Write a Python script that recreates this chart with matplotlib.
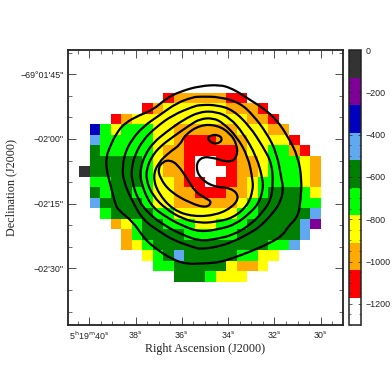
import matplotlib
matplotlib.use('Agg')
import matplotlib.pyplot as plt
import numpy as np
from matplotlib.colors import ListedColormap, BoundaryNorm
from matplotlib.path import Path
from matplotlib.patches import PathPatch
from matplotlib.ticker import MultipleLocator

# velocity map, one letter per cell, '.' = no data
map_rows = [
    "........ROOOOORR.......",
    "......ROYYYYYYOOOR.....",
    "...ROYYYYYYYYYYYOOR....",
    ".BGYGGGYYOOOOOOYYYOO...",
    ".LGGGGGYYORRROOOYYYYR..",
    ".DGGGGGYOORRRRROYYGGOR.",
    ".DDDDDGYOORWWRROOYGGGYO",
    "KDDDDDGYOORWWWROOYGGGYO",
    ".GGDDDGYYORRWRROYGGGGYO",
    ".DGDDGGYYOORRROOYGDDDGY",
    ".LDDDDGYYOOOOOOYGDDDDGG",
    "..GDDDDGGYYYYYYGGDDDDDL",
    "...OYGDDGGGYYGGGDDDDDLP",
    "....OGDDDDGGGGGDDDDDDL.",
    "....OYGDDDDDDDDDDDGGL..",
    "......YGDLDDDDDGGYY....",
    ".......GGDDDDDYOOY.....",
    ".........DDDGYYY.......",
]
cell_values = {'W': -1235, 'R': -1105, 'O': -975, 'Y': -845, 'G': -715,
               'D': -585, 'L': -455, 'B': -325, 'P': -195, 'K': -65}
levels = [-1300, -1170, -1040, -910, -780, -650, -520, -390, -260, -130, 0]
level_colors = ['#ffffff', '#ff0000', '#ffaa00', '#ffff00', '#00ff00',
                '#008000', '#60a8f0', '#0000c0', '#7f0099', '#333333']

# contours, RA seconds after 5h19m and arcsec from -69d02m00s
c1_ra = [39.25, 39.28, 39.11, 38.82, 38.46, 37.81, 37.25, 36.66, 36.08, 35.22, 34.35, 33.92, 33.49, 33.06, 32.50, 31.90, 31.42, 30.98, 30.82, 30.87, 30.98, 31.42, 31.63, 32.19, 33.06, 33.79, 34.35, 34.79, 35.22, 35.74, 36.38, 37.25, 37.68, 38.11, 38.76, 38.89, 39.11, 39.25]
c1_dec = [-7.19, -4.41, -1.79, 1.39, 3.71, 5.57, 6.73, 9.44, 10.97, 12.29, 12.52, 11.83, 10.6, 9.04, 7.19, 4.41, 0.53, -4.10, -9.51, -14.15, -18.02, -20.34, -22.26, -24.12, -26.13, -27.6, -28.52, -28.76, -28.87, -28.99, -28.06, -24.98, -22.66, -19.18, -16.46, -14.84, -10.2, -7.19]
c2_ra = [38.54, 38.56, 38.46, 38.17, 37.68, 36.95, 36.22, 35.52, 35.22, 34.35, 33.49, 32.93, 32.34, 31.90, 31.69, 31.63, 31.69, 32.06, 32.63, 33.06, 33.79, 34.50, 35.22, 35.52, 36.38, 36.95, 37.68, 38.17, 38.54]
c2_dec = [-9.51, -6.43, -3.25, -0.24, 2.85, 5.56, 8.34, 9.67, 9.81, 9.74, 8.34, 5.56, 1.39, -3.25, -9.51, -11.07, -14.15, -17.16, -20.34, -21.8, -23.82, -25.05, -25.51, -25.05, -23.43, -21.5, -18.79, -14.15, -9.51]
c3_ra = [38.17, 38.17, 38.03, 37.68, 37.09, 36.38, 35.52, 35.22, 34.50, 33.79, 33.06, 32.50, 32.12, 32.06, 32.15, 32.54, 33.06, 33.79, 34.53, 35.22, 35.95, 36.66, 37.38, 37.90, 38.17]
c3_dec = [-9.51, -6.73, -3.71, -0.24, 2.85, 5.56, 7.48, 7.88, 7.88, 6.72, 2.85, -1.79, -5.57, -10.21, -14.15, -17.16, -19.95, -22.27, -23.19, -23.66, -22.27, -20.34, -17.63, -14.15, -9.51]
c4_ra = [37.81, 37.77, 37.59, 37.25, 36.66, 35.95, 35.22, 34.50, 33.92, 33.36, 32.77, 32.50, 32.50, 32.67, 33.06, 33.66, 34.35, 35.22, 35.95, 36.69, 37.38, 37.81]
c4_dec = [-9.51, -6.43, -3.71, -0.93, 1.68, 4.40, 6.33, 6.33, 4.87, 1.39, -4.10, -9.51, -11.83, -14.85, -17.16, -19.72, -20.87, -21.57, -20.18, -18.09, -15.31, -9.51]
c5_ra = [37.55, 37.51, 37.30, 36.95, 36.38, 35.65, 35.22, 34.66, 34.22, 33.63, 33.14, 32.94, 32.93, 33.14, 33.79, 34.57, 35.22, 35.95, 36.69, 37.25, 37.55]
c5_dec = [-9.51, -6.73, -4.10, -1.79, 0.51, 3.24, 4.63, 4.87, 3.71, 0.53, -4.10, -9.51, -11.83, -15.31, -18.32, -19.25, -19.48, -18.56, -16.24, -13.22, -9.51]
c6_ra = [35.87, 35.22, 34.50, 33.92, 33.61, 33.61, 33.92, 34.79, 35.22, 35.40, 35.22, 34.66, 33.85, 33.52, 33.79, 34.50, 35.52, 36.38, 37.03, 37.25, 37.03, 36.51, 36.08, 35.87]
c6_dec = [0.92, 3.24, 3.24, 1.39, -1.40, -4.10, -5.57, -4.10, -4.41, -6.43, -9.05, -11.07, -11.37, -13.37, -15.70, -17.63, -18.02, -16.47, -12.53, -8.74, -5.57, -2.95, -1.40, 0.92]
c7_ra = [37.03, 36.95, 36.51, 35.65, 34.93, 34.70, 35.00, 35.43, 35.79, 36.17, 36.51, 36.82, 37.03]
c7_dec = [-6.73, -9.05, -12.22, -14.85, -16.0, -14.55, -13.69, -12.22, -9.05, -6.03, -4.87, -5.27, -6.73]
c8_ra = [34.93, 34.71, 34.44, 34.25, 34.35, 34.66, 34.93]
c8_dec = [0.16, 0.92, 0.92, 0.16, -0.93, -1.16, 0.16]

ra_ticks = [40, 38, 36, 34, 32, 30]
ra_labels = [r'5$^{\mathrm{h}}$19$^{\mathrm{m}}$40$^{\mathrm{s}}$', r'38$^{\mathrm{s}}$', r'36$^{\mathrm{s}}$',
             r'34$^{\mathrm{s}}$', r'32$^{\mathrm{s}}$', r'30$^{\mathrm{s}}$']
dec_ticks = [15, 0, -15, -30]
dec_labels = ["\u221269\u00b001'45\"", "\u221202'00\"", "\u221202'15\"", "\u221202'30\""]
cb_ticks = [0, -200, -400, -600, -800, -1000, -1200]
cb_labels = ['0', '\u2212200', '\u2212400', '\u2212600', '\u2212800', '\u22121000', '\u22121200']

plt.rcParams['font.family'] = ['Liberation Sans', 'DejaVu Sans']
plt.rcParams['mathtext.default'] = 'regular'

W, H = 392, 375
fig = plt.figure(figsize=(W/100, H/100), dpi=100)
ax = fig.add_axes([68/W, 1-325/H, (343-68)/W, (325-50)/H])
cax = fig.add_axes([349/W, 1-325/H, 12/W, (325-50)/H])

# map cells
cell_ra = 0.4536
cell_dec = 2.435
data = np.array([[cell_values.get(c, np.nan) for c in row] for row in map_rows])
ra_edges = 40.43 - cell_ra*np.arange(data.shape[1]+1)
dec_edges = 10.73 - cell_dec*np.arange(data.shape[0]+1)
cmap = ListedColormap(level_colors)
norm = BoundaryNorm(levels, cmap.N)
mesh = ax.pcolormesh(ra_edges, dec_edges, np.ma.masked_invalid(data), cmap=cmap, norm=norm)

def closed_curve(xs, ys):
    # closed quadratic bezier path with the read points as control points
    p = np.column_stack([xs[:-1], ys[:-1]])
    q = np.roll(p, -1, axis=0)
    mid = (p + q)/2
    verts = [mid[-1]]
    codes = [Path.MOVETO]
    for ctrl, end in zip(p, mid):
        verts += [ctrl, end]
        codes += [Path.CURVE3, Path.CURVE3]
    return Path(verts, codes)

for xs, ys in [(c1_ra, c1_dec), (c2_ra, c2_dec), (c3_ra, c3_dec), (c4_ra, c4_dec),
               (c5_ra, c5_dec), (c6_ra, c6_dec), (c7_ra, c7_dec), (c8_ra, c8_dec)]:
    ax.add_patch(PathPatch(closed_curve(xs, ys), fc='none', ec='black', lw=1.6))

ax.set_xlim(40.92, 29.04)
ax.set_ylim(-43.1, 20.6)
ax.set_xticks(ra_ticks)
ax.set_xticklabels(ra_labels, fontsize=6.4)
ax.set_yticks(dec_ticks)
ax.set_yticklabels(dec_labels, fontsize=6.4)
ax.xaxis.set_minor_locator(MultipleLocator(0.5))
ax.yaxis.set_minor_locator(MultipleLocator(5))
ax.tick_params(which='major', direction='in', top=True, right=True, length=6, width=0.6, color='#333333', labelcolor='#222222', pad=3)
ax.tick_params(which='minor', direction='in', top=True, right=True, length=3, width=0.5, color='#333333')
for s in ax.spines.values():
    s.set_linewidth(1.3)
    s.set_color('#222222')
ax.set_xlabel('Right Ascension (J2000)', family='Liberation Serif', fontsize=8.7, color='#222222', labelpad=1)
ax.set_ylabel('Declination (J2000)', family='Liberation Serif', fontsize=8.7, color='#222222', labelpad=2)

cb = fig.colorbar(mesh, cax=cax, boundaries=levels, spacing='proportional')
cb.set_ticks(cb_ticks)
cb.set_ticklabels(cb_labels, fontsize=6.4, color='#222222')
cb.minorticks_off()
cax.yaxis.set_minor_locator(MultipleLocator(50))
cax.tick_params(which='major', direction='in', left=True, right=True, length=2.5, width=0.5, pad=3, color='#222222')
cax.tick_params(which='minor', direction='in', left=True, right=True, length=1.2, width=0.4, color='#222222')
cb.outline.set_linewidth(1.1)
cb.outline.set_edgecolor('#222222')

fig.savefig('out.png', dpi=100)
